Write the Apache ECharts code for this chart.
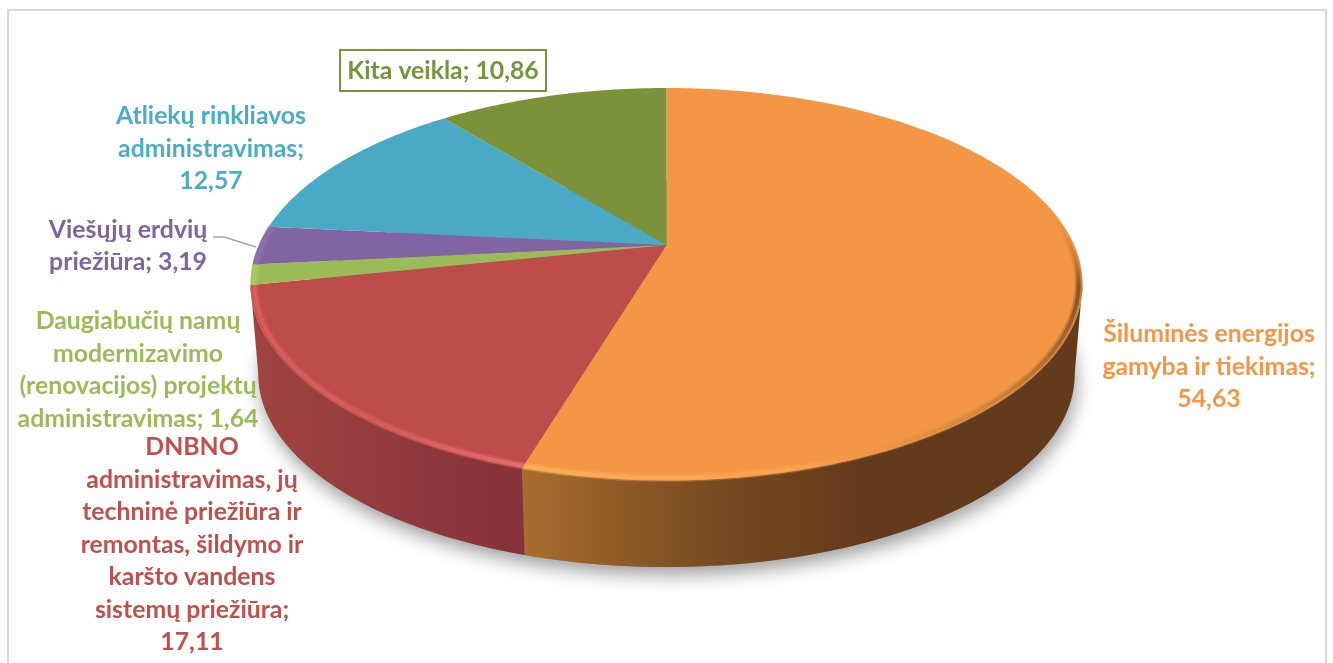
<!DOCTYPE html>
<html><head><meta charset="utf-8">
<style>html,body{margin:0;padding:0;background:#fff;overflow:hidden}#c{width:1333px;height:663px}</style>
<script src="https://cdn.jsdelivr.net/npm/echarts@6/dist/echarts.min.js"></script>
</head><body><div id="c"></div>
<script>
const categories = [
  'Šiluminės energijos\ngamyba ir tiekimas',
  'DNBNO\nadministravimas, jų\ntechninė priežiūra ir\nremontas, šildymo ir\nkaršto vandens\nsistemų priežiūra',
  'Daugiabučių namų\nmodernizavimo\n(renovacijos) projektų\nadministravimas',
  'Viešųjų erdvių\npriežiūra',
  'Atliekų rinkliavos\nadministravimas',
  'Kita veikla'
];
const values = [54.63, 17.11, 1.64, 3.19, 12.57, 10.86];
const valueBreaks = ['\n', '\n', ' ', ' ', '\n', ' '];

const topColors = ['#F39645', '#BE4C4B', '#9BBB59', '#8264A2', '#4AAAC6', '#7A933A'];
const textColors = ['#F39645', '#C0504D', '#9BBB59', '#8064A2', '#4BACC6', '#77933C'];
const wallColors = [
  [[0, '#A96D2E'], [0.3, '#7E4E22'], [0.6, '#633A1C'], [1, '#633A1C']],
  [[0, '#A04341'], [1, '#86323A']]
];
const labelBoxes = [
  {x: 1209, y: 367}, {x: 192, y: 545}, {x: 138, y: 370},
  {x: 128, y: 246}, {x: 211, y: 149}, {x: 443, y: 71}
];
const FONT = 'bold 24.8px Lato';
const LINE = 32.5;

// projection of the pie's unit circle onto the page
const G = {cx: 666.5, cy: 245, rx: 407.6, ry: 188.4, k: 0.2, sBase: 0.981, cyBase: 336};
const WALL_FROM = 101.5, WALL_TO = 258.5; // silhouette angles of the near wall
function proj(deg, r, cy, s) {
  const a = deg * Math.PI / 180, x = Math.sin(a) * r, y = -Math.cos(a) * r;
  const w = 1 - G.k * y;
  return [G.cx + s * G.rx * x / w, cy + s * G.ry * y / w];
}
const topPt = (d, r) => proj(d, r === undefined ? 1 : r, G.cy, 1);
const basePt = d => proj(d, 1, G.cyBase, G.sBase);
const total = values.reduce((a, b) => a + b, 0);
function range(i) {
  let s = 0;
  for (let j = 0; j < i; j++) s += values[j];
  return [s / total * 360, (s + values[i]) / total * 360];
}
function arc(a0, a1, fn) {
  const n = Math.max(2, Math.ceil(Math.abs(a1 - a0))), out = [];
  for (let i = 0; i <= n; i++) out.push(fn(a0 + (a1 - a0) * i / n));
  return out;
}
function grad(stops, x0, y0, x1, y1) {
  return new echarts.graphic.LinearGradient(x0, y0, x1, y1,
    stops.map(s => ({offset: s[0], color: s[1]})), true);
}
// bevel highlight on the near rim of the top face
const rims = [
  {from: 80, g: [527, 465, 733.6, 51.8], stops: [[0, '#FFB05A'], [0.25, '#FBA44E'], [0.58, '#C87F38'], [0.88, '#704420'], [1, 'rgba(243,150,69,0)']]},
  {g: [250, 0, 527, 0], stops: [[0, '#E2625E'], [0.5, '#DE5E5D'], [1, '#F07472']]},
  {g: [250, 0, 256, 0], stops: [[0, '#B4D861'], [1, '#A8CC58']]},
  {g: [250, 0, 270, 0], stops: [[0, '#9278B2'], [1, '#8A6FAA']]}
];

const data = values.map((v, i) => ({name: categories[i].replace(/\n/g, ' '), value: v}));

const option = {
  animation: false,
  backgroundColor: '#fff',
  graphic: {elements: [
    {type: 'rect', z: 0, shape: {x: 8, y: 10, width: 1318, height: 700},
     style: {fill: 'none', stroke: '#D9D9D9', lineWidth: 2}, silent: true},
    {type: 'polyline', z: 20, shape: {points: [[213, 237], [224, 237], [256, 247]]},
     style: {fill: 'none', stroke: '#A6A6A6', lineWidth: 1.4}, silent: true},
    {type: 'rect', z: 20, shape: {x: 340, y: 50, width: 206, height: 41},
     style: {fill: '#fff', stroke: '#77933C', lineWidth: 2}, silent: true}
  ].concat(values.map((v, i) => {
    const txt = categories[i] + ';' + valueBreaks[i] + v.toFixed(2).replace('.', ',');
    return {type: 'text', z: 30, x: labelBoxes[i].x, y: labelBoxes[i].y, silent: true,
      style: {text: txt, font: FONT, fill: textColors[i], align: 'center',
        verticalAlign: 'middle', lineHeight: LINE}};
  }))},
  series: [
    {type: 'custom', coordinateSystem: 'none', silent: true, z: 1, data: [1],
      renderItem: () => ({type: 'polygon', shape: {points: arc(0, 360, basePt)},
        style: {fill: '#888', shadowBlur: 18, shadowColor: 'rgba(0,0,0,0.38)', shadowOffsetY: 8, shadowOffsetX: 2}})},
    {type: 'custom', coordinateSystem: 'none', silent: true, z: 2, data: data,
      renderItem: (p, api) => {
        const i = p.dataIndex, r = range(i);
        const a0 = Math.max(r[0], WALL_FROM), a1 = Math.min(r[1], WALL_TO);
        if (a1 <= a0 || !wallColors[i]) return {type: 'group', children: []};
        const pts = arc(a0, a1, topPt).concat(arc(a1, a0, basePt));
        const xs = pts.map(q => q[0]);
        return {type: 'polygon', shape: {points: pts},
          style: {fill: grad(wallColors[i], Math.min.apply(null, xs), 0, Math.max.apply(null, xs), 0)}};
      }},
    {type: 'custom', coordinateSystem: 'none', silent: true, z: 3, data: data,
      renderItem: (p, api) => {
        const i = p.dataIndex, [a0, a1] = range(i);
        const pts = [[G.cx, G.cy]].concat(arc(a0, a1, topPt));
        const kids = [{type: 'polygon', shape: {points: pts}, style: {fill: topColors[i]}}];
        const R = rims[i];
        if (R) {
          const s = R.from === undefined ? a0 : R.from;
          const stroke = grad(R.stops, R.g[0], R.g[1], R.g[2], R.g[3]);
          const line = arc(s, a1, d => topPt(d, 0.991));
          kids.push({type: 'polyline', shape: {points: line},
            style: {fill: 'none', lineWidth: 8, lineCap: 'butt', stroke: stroke, opacity: 0.3}});
          kids.push({type: 'polyline', shape: {points: line},
            style: {fill: 'none', lineWidth: 4, lineCap: 'butt', stroke: stroke, opacity: 0.75}});
        }
        return {type: 'group', children: kids};
      }}
  ]
};
const chart = echarts.init(document.getElementById('c'), null, {renderer: 'canvas'});
chart.setOption(option);
</script></body></html>
